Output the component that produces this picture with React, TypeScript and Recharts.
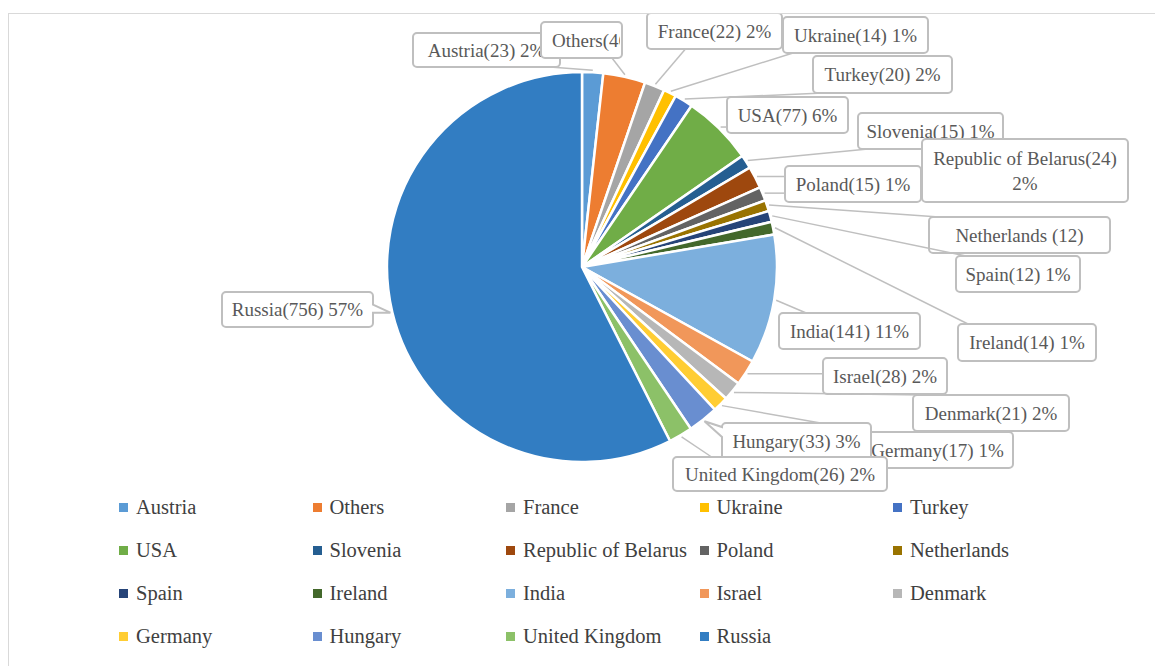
import React from "react";
import { PieChart, Pie, Cell, Legend } from "recharts";

const countries = [
  "Austria", "Others", "France", "Ukraine", "Turkey", "USA", "Slovenia",
  "Republic of Belarus", "Poland", "Netherlands", "Spain", "Ireland", "India",
  "Israel", "Denmark", "Germany", "Hungary", "United Kingdom", "Russia",
];
const visitors = [23, 46, 22, 14, 20, 77, 15, 24, 15, 12, 12, 14, 141, 28, 21, 17, 33, 26, 756];
const colors = [
  "#5B9BD5", "#ED7D31", "#A5A5A5", "#FFC000", "#4472C4", "#70AD47", "#255E91",
  "#9E480E", "#636363", "#997300", "#264478", "#43682B", "#7CAFDD", "#F1975A",
  "#B7B7B7", "#FFCD33", "#698ED0", "#8CC168", "#327DC2",
];

const data = countries.map((name, i) => ({ name, value: visitors[i] }));

// callout boxes (page px, left/top/right/bottom) placed relative to the pie centre
const PIE_CENTER = { x: 582, y: 267 };
const labelBoxes: Record<string, [number, number, number, number]> = {
  Austria: [413, 33, 560, 67],
  Others: [541, 22, 622, 58],
  France: [647, 13, 782, 49],
  Ukraine: [783, 17, 928, 53],
  Turkey: [813, 56, 952, 93],
  USA: [727, 97, 848, 133],
  Slovenia: [858, 113, 1003, 149],
  "Republic of Belarus": [922, 139, 1128, 202],
  Poland: [785, 166, 921, 202],
  Netherlands: [929, 217, 1110, 253],
  Spain: [956, 256, 1080, 292],
  Ireland: [958, 324, 1096, 361],
  India: [779, 313, 920, 349],
  Israel: [823, 358, 947, 394],
  Denmark: [913, 395, 1069, 431],
  Germany: [862, 432, 1013, 468],
  Hungary: [722, 423, 871, 460],
  "United Kingdom": [673, 457, 887, 491],
  Russia: [222, 292, 373, 327],
};
const pointerLabels = ["Russia", "Hungary"];

const FONT = "Liberation Serif";
const RAD = Math.PI / 180;

function calloutPath(l: number, t: number, r: number, b: number, tip?: { x: number; y: number }) {
  const k = 4;
  let right = `V ${b - k}`;
  let left = `V ${t + k}`;
  if (tip && tip.x > r) {
    const py = Math.min(Math.max(tip.y - 8, t + 6), b - 14);
    right = `V ${py} L ${tip.x} ${tip.y} L ${r} ${py + 8} V ${b - k}`;
  } else if (tip && tip.x < l) {
    const py = Math.min(Math.max(tip.y, t + 4), b - 14);
    left = `V ${py + 10} L ${tip.x} ${tip.y} L ${l} ${py} V ${t + k}`;
  }
  return (
    `M ${l + k} ${t} H ${r - k} A ${k} ${k} 0 0 1 ${r} ${t + k} ${right} ` +
    `A ${k} ${k} 0 0 1 ${r - k} ${b} H ${l + k} A ${k} ${k} 0 0 1 ${l} ${b - k} ${left} ` +
    `A ${k} ${k} 0 0 1 ${l + k} ${t} Z`
  );
}

function renderLabel(props: any) {
  const { cx, cy, midAngle, outerRadius, name, value, percent, index } = props;
  const box = labelBoxes[name];
  if (!box) return null;
  const l = cx + box[0] - PIE_CENTER.x;
  const t = cy + box[1] - PIE_CENTER.y;
  const r = cx + box[2] - PIE_CENTER.x;
  const b = cy + box[3] - PIE_CENTER.y;
  const ax = cx + (outerRadius + 2) * Math.cos(-midAngle * RAD);
  const ay = cy + (outerRadius + 2) * Math.sin(-midAngle * RAD);
  const pct = Math.round(percent * 100);
  const pointer = pointerLabels.includes(name);

  // leader line ends on the nearest point of the box, nudged toward its middle
  let nx = Math.min(Math.max(ax, l), r);
  let ny = Math.min(Math.max(ay, t), b);
  if (ny === t || ny === b) nx = Math.min(Math.max(ax + 30, l + 10), r - 10);

  let lines: string[];
  if (name === "Netherlands") lines = [`${name} (${value})`];
  else if (name === "Republic of Belarus") lines = [`${name}(${value})`, `${pct}%`];
  else lines = [`${name}(${value}) ${pct}%`];

  const mx = (l + r) / 2;
  const my = (t + b) / 2;
  const clipId = `lbl-clip-${index}`;

  return (
    <g key={`lbl-${index}`}>
      {!pointer && <line x1={ax} y1={ay} x2={nx} y2={ny} stroke="#BFBFBF" strokeWidth={1.5} />}
      <path
        d={calloutPath(l, t, r, b, pointer ? { x: ax, y: ay } : undefined)}
        fill="#FFFFFF"
        stroke="#BFBFBF"
        strokeWidth={2}
      />
      <clipPath id={clipId}>
        <rect x={l + 2} y={t} width={r - l - 4} height={b - t} />
      </clipPath>
      <g clipPath={`url(#${clipId})`}>
        {lines.map((s, i) => (
          <text
            key={i}
            x={name === "Others" ? l + 11 : mx}
            y={my + (i - (lines.length - 1) / 2) * 25}
            textAnchor={name === "Others" ? "start" : "middle"}
            dominantBaseline="central"
            fontFamily={FONT}
            fontSize={19}
            fill="#595959"
          >
            {s}
          </text>
        ))}
      </g>
    </g>
  );
}

function renderLegend(props: any) {
  const items = [...(props.payload || [])].sort(
    (a: any, b: any) => countries.indexOf(a.value) - countries.indexOf(b.value)
  );
  return (
    <div style={{ position: "relative", height: 172, fontFamily: FONT }}>
      {items.map((it: any, i: number) => {
        const col = i % 5;
        const row = Math.floor(i / 5);
        return (
          <div
            key={it.value}
            style={{
              position: "absolute",
              left: 110 + col * 193.5,
              top: row * 43,
              height: 43,
              display: "flex",
              alignItems: "center",
              whiteSpace: "nowrap",
            }}
          >
            <span style={{ width: 9, height: 9, background: it.color, marginRight: 8, display: "inline-block" }} />
            <span style={{ fontSize: 20.5, color: "#404040" }}>{it.value}</span>
          </div>
        );
      })}
    </div>
  );
}

export default function App() {
  return (
    <div
      style={{
        marginTop: 5,
        width: 1160,
        height: 660,
        borderTop: "1.5px solid #D9D9D9",
        borderLeft: "1.5px solid #D9D9D9",
        background: "#FFFFFF",
      }}
    >
      <PieChart width={1150} height={652} margin={{ top: 0, right: 0, bottom: 0, left: 0 }}>
        <Pie
          data={data}
          dataKey="value"
          nameKey="name"
          cx={573}
          cy={253}
          outerRadius={195}
          startAngle={90}
          endAngle={-270}
          stroke="#FFFFFF"
          strokeWidth={2.5}
          label={renderLabel}
          labelLine={false}
          isAnimationActive={false}
        >
          {data.map((d, i) => (
            <Cell key={d.name} fill={colors[i]} />
          ))}
        </Pie>
        <Legend
          content={renderLegend}
          verticalAlign="bottom"
          wrapperStyle={{ top: 472, left: 0, bottom: "auto", width: 1150 }}
        />
      </PieChart>
    </div>
  );
}
